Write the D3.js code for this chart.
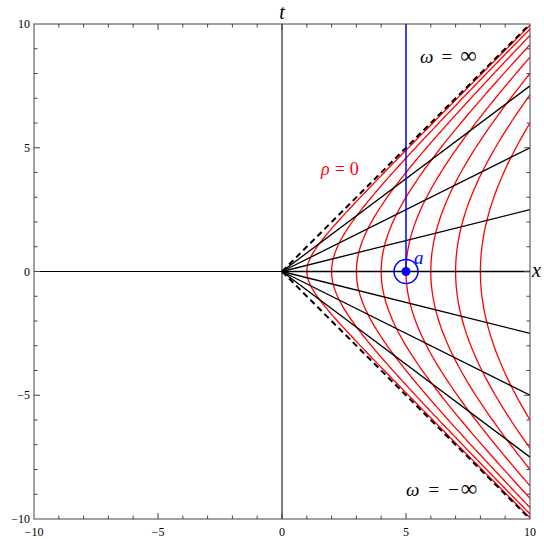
<!DOCTYPE html>
<html>
  <head>
    <meta charset="UTF-8" />
    <style>
      body { margin: 0; background: #fff; }
      svg { display: block; }
      text { font-family: "Liberation Serif", "DejaVu Serif", serif; }
    </style>
  </head>
  <body>
    <svg></svg>
    <script src="https://d3js.org/d3.v7.min.js"></script>
    <script>
      let width = 544,
        height = 539;

      // data
      const tickValues = [-10, -5, 0, 5, 10];
      const minorTicks = d3.range(-10, 11, 1);
      const rhoValues = [1, 2, 3, 4, 5, 6, 7, 8];
      const omegaSlopes = [-0.75, -0.5, -0.25, 0, 0.25, 0.5, 0.75];
      const pointA = { x: 5, t: 0 };

      let svg = d3.select("svg").attr("width", width).attr("height", height);

      const x = d3.scaleLinear().domain([-10, 10]).range([34, 530]);
      const y = d3.scaleLinear().domain([-10, 10]).range([519, 24]);

      svg.append("defs").append("clipPath").attr("id", "clip")
        .append("rect")
        .attr("x", 34).attr("y", 24)
        .attr("width", 496).attr("height", 495);

      const plot = svg.append("g").attr("clip-path", "url(#clip)");

      // coordinate axes through origin
      plot.append("line")
        .attr("x1", x(-10)).attr("x2", x(10))
        .attr("y1", y(0)).attr("y2", y(0))
        .attr("stroke", "black").attr("stroke-width", 1);
      plot.append("line")
        .attr("x1", x(0)).attr("x2", x(0))
        .attr("y1", y(-10)).attr("y2", y(10))
        .attr("stroke", "black").attr("stroke-width", 1);

      // red hyperbolas x^2 - t^2 = rho^2
      const line = d3.line().x((d) => x(d[0])).y((d) => y(d[1]));
      rhoValues.forEach((rho) => {
        const tMax = Math.sqrt(100 - rho * rho);
        const pts = d3.range(-tMax, tMax + 1e-9, tMax / 100).map((t) => [
          Math.sqrt(rho * rho + t * t),
          t,
        ]);
        plot.append("path")
          .attr("d", line(pts))
          .attr("fill", "none")
          .attr("stroke", "#ff0000")
          .attr("stroke-width", 1.3);
      });

      // black lines of constant omega
      omegaSlopes.forEach((s) => {
        plot.append("line")
          .attr("x1", x(0)).attr("y1", y(0))
          .attr("x2", x(10)).attr("y2", y(10 * s))
          .attr("stroke", "black")
          .attr("stroke-width", 1.3);
      });

      // light cone (dashed)
      [1, -1].forEach((s) => {
        plot.append("line")
          .attr("x1", x(0)).attr("y1", y(0))
          .attr("x2", x(10)).attr("y2", y(10 * s))
          .attr("stroke", "black")
          .attr("stroke-width", 2)
          .attr("stroke-dasharray", "6,4");
      });

      // blue worldline and point a
      plot.append("line")
        .attr("x1", x(pointA.x)).attr("x2", x(pointA.x))
        .attr("y1", y(pointA.t)).attr("y2", y(10))
        .attr("stroke", "#0000ff").attr("stroke-width", 1.5);
      plot.append("circle")
        .attr("cx", x(pointA.x)).attr("cy", y(pointA.t))
        .attr("r", 12).attr("fill", "none")
        .attr("stroke", "#0000ff").attr("stroke-width", 1.5);
      plot.append("circle")
        .attr("cx", x(pointA.x)).attr("cy", y(pointA.t))
        .attr("r", 4.5).attr("fill", "#0000ff");

      // frame
      const frame = svg.append("g");
      frame.append("rect")
        .attr("x", 34).attr("y", 24)
        .attr("width", 496).attr("height", 495)
        .attr("fill", "none")
        .attr("stroke", "#444").attr("stroke-width", 1);

      // ticks on all four sides, pointing inward
      minorTicks.forEach((v) => {
        const len = v % 5 === 0 ? 6 : 3.5;
        if (v > -10 && v < 10) {
          frame.append("line") // bottom
            .attr("x1", x(v)).attr("x2", x(v))
            .attr("y1", 519).attr("y2", 519 - len)
            .attr("stroke", "#444");
          frame.append("line") // top
            .attr("x1", x(v)).attr("x2", x(v))
            .attr("y1", 24).attr("y2", 24 + len)
            .attr("stroke", "#444");
          frame.append("line") // left
            .attr("x1", 34).attr("x2", 34 + len)
            .attr("y1", y(v)).attr("y2", y(v))
            .attr("stroke", "#444");
          frame.append("line") // right
            .attr("x1", 530).attr("x2", 530 - len)
            .attr("y1", y(v)).attr("y2", y(v))
            .attr("stroke", "#444");
        }
      });

      const fmt = (v) => (v < 0 ? "\u2212" + Math.abs(v) : String(v));

      // tick labels
      svg.append("g").selectAll("text")
        .data(tickValues).enter().append("text")
        .attr("x", (d) => x(d))
        .attr("y", 536)
        .attr("text-anchor", "middle")
        .attr("font-size", 12)
        .text(fmt);

      svg.append("g").selectAll("text")
        .data(tickValues).enter().append("text")
        .attr("x", 30)
        .attr("y", (d) => y(d) + 4)
        .attr("text-anchor", "end")
        .attr("font-size", 12)
        .text(fmt);

      // axis names
      svg.append("text")
        .attr("x", x(0)).attr("y", 19)
        .attr("text-anchor", "middle")
        .attr("font-size", 20).attr("font-style", "italic")
        .text("t");
      svg.append("text")
        .attr("x", 532).attr("y", y(0) + 5)
        .attr("font-size", 20).attr("font-style", "italic")
        .text("x");

      // annotations
      svg.append("text")
        .attr("x", 420).attr("y", 63)
        .attr("font-size", 19)
        .html('<tspan font-style="italic">\u03c9</tspan><tspan dx="8">=</tspan><tspan dx="8" font-size="23">\u221e</tspan>');
      svg.append("text")
        .attr("x", 406).attr("y", 496)
        .attr("font-size", 19)
        .html('<tspan font-style="italic">\u03c9</tspan><tspan dx="9">=</tspan><tspan dx="9">\u2212</tspan><tspan dx="2" font-size="23">\u221e</tspan>');
      svg.append("text")
        .attr("x", 321).attr("y", 175)
        .attr("font-size", 18).attr("fill", "#ff0000")
        .html('<tspan font-style="italic">\u03c1</tspan><tspan dx="5">=</tspan><tspan dx="5">0</tspan>');
      svg.append("text")
        .attr("x", x(pointA.x) + 8).attr("y", y(pointA.t) - 8)
        .attr("font-size", 19).attr("font-style", "italic")
        .attr("fill", "#0000ff")
        .text("a");
    </script>
  </body>
</html>
